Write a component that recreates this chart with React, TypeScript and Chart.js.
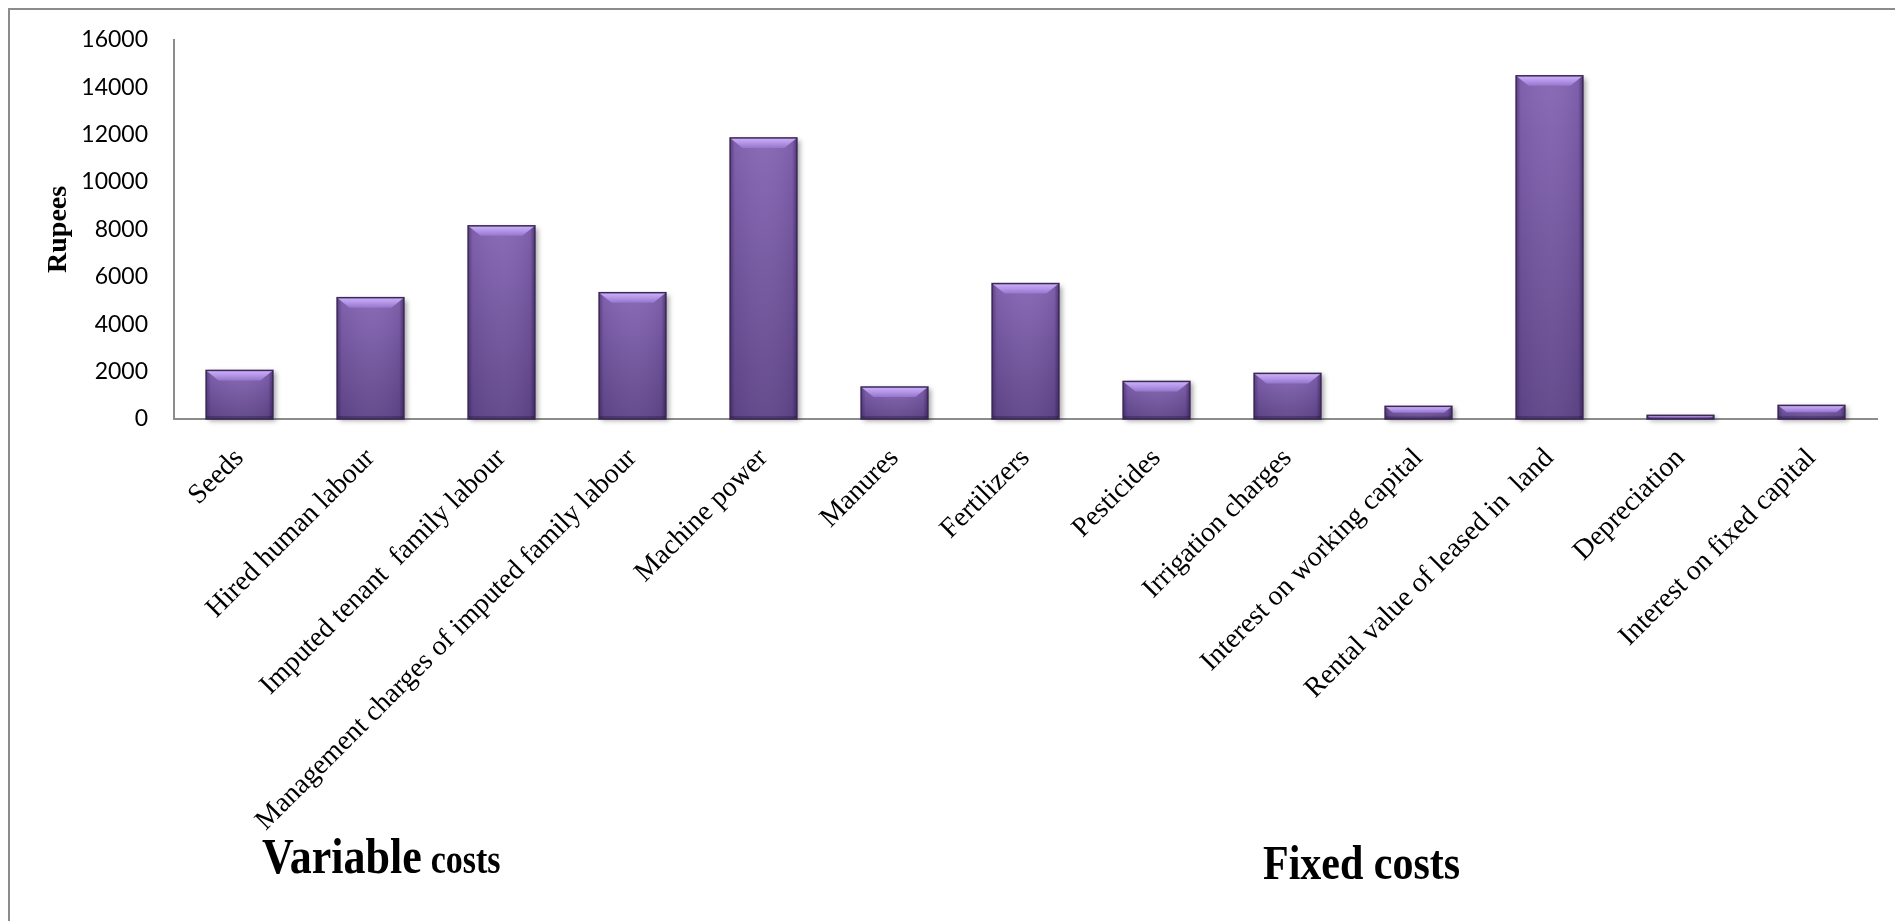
import React, { useEffect, useRef } from 'react';
import { Chart, registerables } from 'chart.js';

Chart.register(...registerables);

// ---------------- data ----------------
const categories: string[] = [
  'Seeds',
  'Hired human labour',
  'Imputed tenant  family labour',
  'Management charges of imputed family labour',
  'Machine power',
  'Manures',
  'Fertilizers',
  'Pesticides',
  'Irrigation charges',
  'Interest on working capital',
  'Rental value of leased in  land',
  'Depreciation',
  'Interest on fixed capital',
];
const costValues: number[] = [2050, 5120, 8150, 5330, 11860, 1350, 5715, 1585, 1925, 535, 14480, 155, 575];
const yMin = 0;
const yMax = 16000;
const yStep = 2000;
const yAxisTitle = 'Rupees';
const variableLabelMain = 'Variable';
const variableLabelTail = 'costs';
const fixedLabel = 'Fixed costs';

// ---------------- style ----------------
const W = 1895;
const H = 921;
const SERIF = "'Liberation Serif', 'Times New Roman', serif";
const SANS = "Lato, 'Open Sans', sans-serif";
const AXIS_GRAY = '#8c8c8c';

function barRect(el: any) {
  const p = el.getProps(['x', 'y', 'base', 'width'], true);
  const x0 = p.x - p.width / 2;
  const x1 = p.x + p.width / 2;
  const top = Math.min(p.y, p.base);
  const bot = Math.max(p.y, p.base);
  return { x0, x1, top, bot, w: x1 - x0, h: bot - top };
}

const decorPlugin = {
  id: 'decor',
  beforeDraw(chart: any) {
    const ctx = chart.ctx as CanvasRenderingContext2D;
    ctx.save();
    ctx.fillStyle = '#ffffff';
    ctx.fillRect(0, 0, chart.width, chart.height);
    ctx.strokeStyle = AXIS_GRAY;
    ctx.lineWidth = 2;
    ctx.beginPath();
    ctx.moveTo(9, chart.height + 2);
    ctx.lineTo(9, 9);
    ctx.lineTo(chart.width + 2, 9);
    ctx.stroke();
    ctx.restore();
  },
  beforeDatasetsDraw(chart: any) {
    const ctx = chart.ctx as CanvasRenderingContext2D;
    const meta = chart.getDatasetMeta(0);
    ctx.save();
    ctx.shadowColor = 'rgba(0,0,0,0.35)';
    ctx.shadowBlur = 5;
    ctx.shadowOffsetX = 3;
    ctx.shadowOffsetY = 2;
    ctx.fillStyle = '#5f4688';
    meta.data.forEach((el: any) => {
      const r = barRect(el);
      ctx.fillRect(r.x0, r.top, r.w, r.h);
    });
    ctx.restore();
  },
  afterDatasetsDraw(chart: any) {
    const ctx = chart.ctx as CanvasRenderingContext2D;
    const meta = chart.getDatasetMeta(0);
    ctx.save();
    meta.data.forEach((el: any) => {
      const { x0, x1, top, bot, w, h } = barRect(el);
      // body
      const g = ctx.createLinearGradient(0, top, 0, bot);
      g.addColorStop(0, '#8666b4');
      g.addColorStop(1, '#604789');
      ctx.fillStyle = g;
      ctx.fillRect(x0, top, w, h);
      // side shading
      const hg = ctx.createLinearGradient(x0, 0, x1, 0);
      hg.addColorStop(0, 'rgba(30,10,60,0.40)');
      hg.addColorStop(0.07, 'rgba(30,10,60,0.06)');
      hg.addColorStop(0.5, 'rgba(255,255,255,0.03)');
      hg.addColorStop(0.93, 'rgba(30,10,60,0.08)');
      hg.addColorStop(1, 'rgba(30,10,60,0.50)');
      ctx.fillStyle = hg;
      ctx.fillRect(x0, top, w, h);
      // top bevel
      const b = Math.min(10, h * 0.5);
      const s = b * 1.25;
      const tg = ctx.createLinearGradient(0, top, 0, top + b);
      tg.addColorStop(0, '#cdb2f8');
      tg.addColorStop(0.5, '#b495e8');
      tg.addColorStop(1, '#9476cb');
      ctx.fillStyle = tg;
      ctx.beginPath();
      ctx.moveTo(x0, top);
      ctx.lineTo(x1, top);
      ctx.lineTo(x1 - s, top + b);
      ctx.lineTo(x0 + s, top + b);
      ctx.closePath();
      ctx.fill();
      // bottom band
      const bb = Math.min(3, h * 0.2);
      ctx.fillStyle = 'rgba(20,5,40,0.25)';
      ctx.fillRect(x0, bot - bb, w, bb);
      // outline
      ctx.strokeStyle = '#3a2956';
      ctx.lineWidth = 1.5;
      ctx.strokeRect(x0, top, w, h);
    });
    ctx.restore();
  },
  afterDraw(chart: any) {
    const ctx = chart.ctx as CanvasRenderingContext2D;
    const stretch = 1.17;
    ctx.save();
    ctx.fillStyle = '#000';
    ctx.textBaseline = 'alphabetic';
    ctx.textAlign = 'left';
    // Variable costs
    ctx.save();
    ctx.translate(262, 873);
    ctx.scale(1, stretch);
    ctx.font = `bold 44px ${SERIF}`;
    ctx.fillText(variableLabelMain, 0, 0);
    const vw = ctx.measureText(variableLabelMain).width;
    ctx.font = `bold 34px ${SERIF}`;
    ctx.fillText(variableLabelTail, vw + 9, 0);
    ctx.restore();
    // Fixed costs
    ctx.save();
    ctx.translate(1263, 879);
    ctx.scale(1, stretch);
    ctx.font = `bold 42px ${SERIF}`;
    ctx.fillText(fixedLabel, 0, 0);
    ctx.restore();
    ctx.restore();
  },
};

export default function App() {
  const canvasRef = useRef<HTMLCanvasElement | null>(null);

  useEffect(() => {
    if (!canvasRef.current) return;
    const chart = new Chart(canvasRef.current, {
      type: 'bar',
      data: {
        labels: categories,
        datasets: [
          {
            label: 'Cost',
            data: costValues,
            backgroundColor: '#7659a4',
            borderColor: '#3a2956',
            borderWidth: 0,
            barPercentage: 0.51,
            categoryPercentage: 1.0,
          },
        ],
      },
      options: {
        animation: false,
        responsive: true,
        maintainAspectRatio: false,
        layout: { padding: { left: 0, top: 39, right: 18, bottom: 0 } },
        plugins: {
          legend: { display: false },
          tooltip: { enabled: false },
        },
        scales: {
          x: {
            grid: { display: false, drawTicks: false },
            border: { display: true, color: AXIS_GRAY, width: 2 },
            ticks: {
              autoSkip: false,
              minRotation: 45,
              maxRotation: 45,
              padding: 23,
              color: '#000',
              font: { family: SERIF, size: 28 },
            },
            afterFit: (s: any) => {
              s.height = 502;
            },
          },
          y: {
            min: yMin,
            max: yMax,
            grid: { display: false, drawTicks: false },
            border: { display: true, color: AXIS_GRAY, width: 2 },
            ticks: {
              stepSize: yStep,
              padding: 26,
              color: '#000',
              font: { family: SANS, size: 23 },
              callback: (v: any) => String(v),
            },
            title: {
              display: true,
              text: yAxisTitle,
              color: '#000',
              font: { family: SERIF, size: 28, weight: 'bold' },
              padding: { top: 42, bottom: 0 },
            },
            afterFit: (s: any) => {
              s.width = 174;
            },
          },
        },
      },
      plugins: [decorPlugin],
    });
    return () => chart.destroy();
  }, []);

  return (
    <div style={{ position: 'absolute', left: 0, top: 0, width: W, height: H, overflow: 'hidden', background: '#fff' }}>
      <div style={{ position: 'relative', width: W, height: H }}>
        <canvas ref={canvasRef} />
      </div>
    </div>
  );
}
